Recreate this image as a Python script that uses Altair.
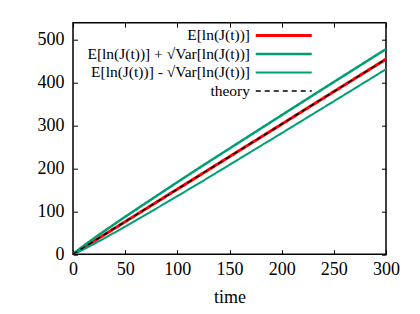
import altair as alt
import pandas as pd

# time samples
t = [0, 5, 10, 20, 30, 50, 75, 100, 125, 150, 175, 200, 225, 250, 275, 300]
# E[ln(J(t))]
mean = [0, 7.6, 15.2, 30.3, 45.5, 75.8, 113.7, 151.7, 189.6, 227.5, 265.4, 303.3, 341.3, 379.2, 417.1, 455.0]
# E + sqrt(Var)
upper = [0, 10.1, 19.2, 36.8, 54.0, 87.3, 127.7, 168.0, 207.6, 246.5, 285.4, 324.3, 363.1, 401.7, 440.1, 478.5]
# E - sqrt(Var)
lower = [0, 5.1, 11.2, 23.8, 37.0, 64.3, 99.7, 135.4, 171.6, 208.5, 245.4, 282.3, 319.5, 356.7, 394.1, 431.5]
# theory
theory = [0, 7.6, 15.2, 30.3, 45.5, 75.8, 113.7, 151.7, 189.6, 227.5, 265.4, 303.3, 341.3, 379.2, 417.1, 455.0]

names = ["E[ln(J(t))]", "E[ln(J(t))] + √Var[ln(J(t))]", "E[ln(J(t))] - √Var[ln(J(t))]", "theory"]
colors = ["#ff0000", "#009e73", "#009e73", "#000000"]
widths = [3, 1.5, 1.5, 1.6]
dashes = [[1, 0], [1, 0], [1, 0], [5, 4]]

x_ticks = [0, 50, 100, 150, 200, 250, 300]
y_ticks = [0, 100, 200, 300, 400, 500]

rows = []
for name, vals in zip(names, [mean, upper, lower, theory]):
    for ti, v in zip(t, vals):
        rows.append({"t": ti, "v": v, "series": name})
df = pd.DataFrame(rows)

W, H = 313, 231.5
FONT = "Liberation Serif"

xscale = alt.Scale(domain=[0, 300], nice=False, zero=False)
yscale = alt.Scale(domain=[0, 540], nice=False, zero=False)

legend = alt.Legend(
    title=None, orient="none", legendX=203, legendY=5,
    symbolType="M-11.2,0H11.2", symbolSize=25,
    labelAlign="right", labelOffset={"expr": "-41.5"}, labelFont=FONT, labelFontSize=15.5,
    labelColor="black", labelLimit=400, rowPadding=1.5, padding=0,
)

color = alt.Color("series:N", scale=alt.Scale(domain=names, range=colors), legend=legend)
sdash = alt.StrokeDash("series:N", scale=alt.Scale(domain=names, range=dashes), legend=legend)
swidth = alt.StrokeWidth("series:N", scale=alt.Scale(domain=names, range=widths), legend=legend)

main_x = alt.X("t:Q", scale=xscale, axis=alt.Axis(values=x_ticks, tickSize=0, domain=False, grid=False,
                                                   labelFlush=False, labelFont=FONT, labelFontSize=18,
                                                   labelPadding=6, title="time", titlePadding=10))
main_y = alt.Y("v:Q", scale=yscale, axis=alt.Axis(values=y_ticks, tickSize=0, domain=False, grid=False,
                                                   labelFlush=False, labelFont=FONT, labelFontSize=18,
                                                   labelPadding=9, title=None))

lines = alt.Chart(df).transform_filter(alt.datum.series != "theory").mark_line(clip=True).encode(
    x=main_x, y=main_y, color=color, strokeDash=sdash, strokeWidth=swidth
)

tick_x_a = alt.X("t:Q", scale=xscale, axis=alt.Axis(orient="top", offset={"expr": str(-H)}, values=x_ticks, tickSize=4.5,
                                                     labels=False, domain=False, grid=False, title=None))
tick_y_a = alt.Y("v:Q", scale=yscale, axis=alt.Axis(orient="right", offset={"expr": str(-W)}, values=y_ticks, tickSize=4.5,
                                                     labels=False, domain=False, grid=False, title=None))
theo = alt.Chart(df).transform_filter(alt.datum.series == "theory").mark_line(clip=True).encode(
    x=tick_x_a, y=tick_y_a, color=color, strokeDash=sdash, strokeWidth=swidth
)

tick_x_b = alt.X("t:Q", scale=xscale, axis=alt.Axis(orient="bottom", offset={"expr": str(-H)}, values=x_ticks, tickSize=4.5,
                                                     labels=False, domain=False, grid=False, title=None))
tick_y_b = alt.Y("v:Q", scale=yscale, axis=alt.Axis(orient="left", offset={"expr": str(-W)}, values=y_ticks, tickSize=4.5,
                                                     labels=False, domain=False, grid=False, title=None))
ghost = alt.Chart(df).mark_point(opacity=0).encode(x=tick_x_b, y=tick_y_b)

chart = alt.layer(lines, theo, ghost).resolve_axis(x="independent", y="independent").properties(
    width=W, height=H,
    autosize=alt.AutoSizeParams(type="none"),
    padding={"left": 65, "top": 14.7, "right": 26, "bottom": 52},
).configure_view(stroke="black", strokeWidth=1.5).configure_axis(
    labelFont=FONT, labelFontSize=18, labelColor="black",
    titleFont=FONT, titleFontSize=18, titleFontWeight="normal", titleColor="black",
    tickColor="black", tickWidth=1,
)

chart.save("out.html", embed_options={"renderer": "svg", "actions": False})
